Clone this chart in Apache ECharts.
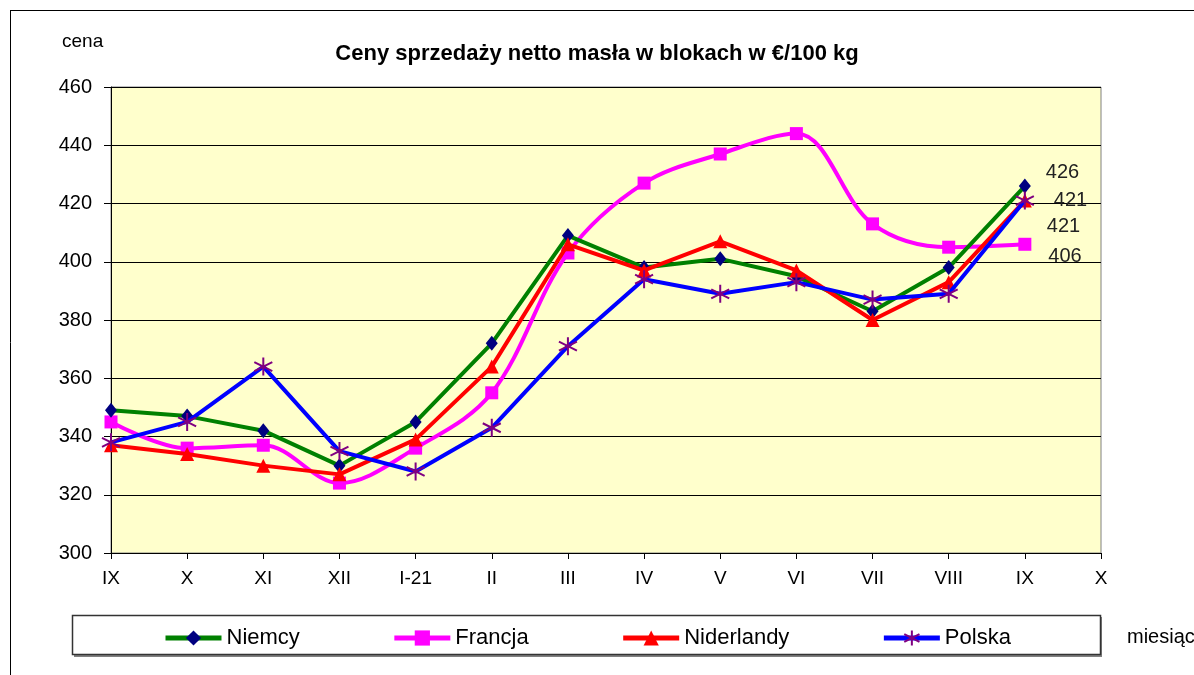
<!DOCTYPE html>
<html>
<head>
<meta charset="utf-8">
<script src="https://cdn.jsdelivr.net/npm/echarts@6/dist/echarts.min.js"></script>
<style>html,body{margin:0;padding:0;background:#fff;}#c{width:1194px;height:675px;}</style>
</head>
<body>
<div id="c"></div>
<script>
const months = ['IX','X','XI','XII','I-21','II','III','IV','V','VI','VII','VIII','IX','X'];
const yTicks = [300, 320, 340, 360, 380, 400, 420, 440, 460];
const niemcy     = [349, 347, 342, 330, 345, 372, 409, 398, 401, 395, 383, 398, 426];
const francja    = [345, 336, 337, 324, 336, 355, 403, 427, 437, 444, 413, 405, 406];
const niderlandy = [337, 334, 330, 327, 339, 364, 406, 397, 407, 397, 380, 393, 421];
const polska     = [338, 345, 364, 335, 328, 343, 371, 394, 389, 393, 387, 389, 421];

const asterisk = 'path://M5,0 L5,10 M0.7,2.5 L9.3,7.5 M0.7,7.5 L9.3,2.5';
const font = 'Liberation Sans, Arial, sans-serif';

function withLastLabel(arr, offset) {
  return arr.map((v, i) => i === arr.length - 1
    ? { value: v, label: { show: true, position: 'right', offset: offset, formatter: '{c}',
        fontFamily: font, fontSize: 20, color: '#222' } }
    : v);
}

const chart = echarts.init(document.getElementById('c'), null, { renderer: 'canvas' });
chart.setOption({
  animation: false,
  backgroundColor: '#fff',
  title: [
    { text: 'Ceny sprzedaży netto masła w blokach w €/100 kg', left: 'center', top: 38,
      textStyle: { fontFamily: font, fontSize: 22, fontWeight: 'bold', color: '#000' } },
    { text: 'cena', left: 57, top: 27, textStyle: { fontFamily: font, fontSize: 19, fontWeight: 'normal', color: '#000' } },
    { text: 'miesiąc', left: 1122, top: 622, textStyle: { fontFamily: font, fontSize: 20, fontWeight: 'normal', color: '#000' } }
  ],
  graphic: [
    { type: 'line', shape: { x1: 10, y1: 10.5, x2: 1194, y2: 10.5 }, style: { stroke: '#000', lineWidth: 1 } },
    { type: 'line', shape: { x1: 10.5, y1: 10, x2: 10.5, y2: 675 }, style: { stroke: '#000', lineWidth: 1 } },
    { type: 'rect', shape: { x: 74, y: 617, width: 1028, height: 40 }, style: { fill: '#808080' }, z: -1 },
    { type: 'rect', shape: { x: 72.5, y: 615.5, width: 1028, height: 39 }, style: { fill: '#fff', stroke: '#333', lineWidth: 1.5 }, z: 0 }
  ],
  legend: {
    left: 158, top: 622, itemGap: 92, itemWidth: 56, itemHeight: 19,
    lineStyle: { width: 5 },
    textStyle: { fontFamily: font, fontSize: 22, color: '#000' },
    z: 5
  },
  grid: { left: 111, right: 93, top: 87, bottom: 122, show: true,
    backgroundColor: '#FFFFCC', borderColor: '#808080', borderWidth: 1 },
  xAxis: {
    type: 'category', data: months, boundaryGap: false,
    axisLine: { lineStyle: { color: '#000', width: 1 } },
    axisTick: { show: true, length: 6, lineStyle: { color: '#000' } },
    axisLabel: { fontFamily: font, fontSize: 19, color: '#000', margin: 16, interval: 0 },
    splitLine: { show: false }
  },
  yAxis: {
    type: 'value', min: yTicks[0], max: yTicks[yTicks.length - 1], interval: 20,
    axisLine: { show: true, lineStyle: { color: '#000', width: 1 } },
    axisTick: { show: true, length: 7, lineStyle: { color: '#000' } },
    axisLabel: { fontFamily: font, fontSize: 20, color: '#000', margin: 19 },
    splitLine: { show: true, lineStyle: { color: '#000', width: 1 } }
  },
  series: [
    { name: 'Niemcy', type: 'line', data: withLastLabel(niemcy, [10, -14]),
      symbol: 'diamond', symbolSize: [12, 15], showAllSymbol: true,
      lineStyle: { color: '#008000', width: 4 }, itemStyle: { color: '#000080' }, z: 3 },
    { name: 'Francja', type: 'line', data: withLastLabel(francja, [12, 12]), smooth: 0.35,
      symbol: 'rect', symbolSize: 13,
      lineStyle: { color: '#FF00FF', width: 4 }, itemStyle: { color: '#FF00FF' }, z: 2 },
    { name: 'Niderlandy', type: 'line', data: withLastLabel(niderlandy, [10, 26]),
      symbol: 'triangle', symbolSize: 14,
      lineStyle: { color: '#FF0000', width: 4 }, itemStyle: { color: '#FF0000' }, z: 4 },
    { name: 'Polska', type: 'line', data: withLastLabel(polska, [14, 0]),
      symbol: asterisk, symbolSize: 18,
      lineStyle: { color: '#0000FF', width: 4 },
      itemStyle: { color: '#800080', borderColor: '#800080', borderWidth: 2 }, z: 5 }
  ]
});
</script>
</body>
</html>
